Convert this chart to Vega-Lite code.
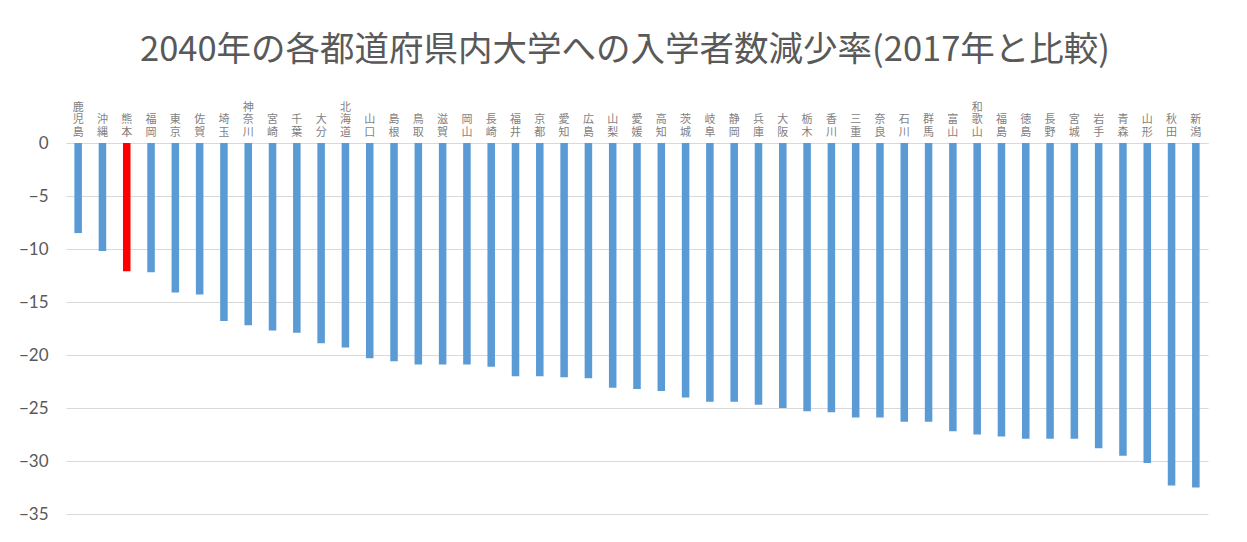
{
  "$schema": "https://vega.github.io/schema/vega-lite/v6.json",
  "width": 1142,
  "height": 371,
  "autosize": {"type": "none"},
  "padding": {"left": 66, "top": 143, "right": 39, "bottom": 28},
  "background": "white",
  "title": {
    "text": "2040年の各都道府県内大学への入学者数減少率(2017年と比較)",
    "font": "Noto Sans CJK JP",
    "fontSize": 34.5,
    "fontWeight": "normal",
    "color": "#595959",
    "anchor": "middle",
    "dx": -12,
    "offset": 33
  },
  "data": {
    "values": [
      {"pref": "鹿児島", "rate": -8.5},
      {"pref": "沖縄", "rate": -10.2},
      {"pref": "熊本", "rate": -12.1},
      {"pref": "福岡", "rate": -12.2},
      {"pref": "東京", "rate": -14.1},
      {"pref": "佐賀", "rate": -14.3},
      {"pref": "埼玉", "rate": -16.8},
      {"pref": "神奈川", "rate": -17.2},
      {"pref": "宮崎", "rate": -17.7},
      {"pref": "千葉", "rate": -17.9},
      {"pref": "大分", "rate": -18.9},
      {"pref": "北海道", "rate": -19.3},
      {"pref": "山口", "rate": -20.3},
      {"pref": "島根", "rate": -20.6},
      {"pref": "鳥取", "rate": -20.9},
      {"pref": "滋賀", "rate": -20.9},
      {"pref": "岡山", "rate": -20.9},
      {"pref": "長崎", "rate": -21.1},
      {"pref": "福井", "rate": -22.0},
      {"pref": "京都", "rate": -22.0},
      {"pref": "愛知", "rate": -22.1},
      {"pref": "広島", "rate": -22.2},
      {"pref": "山梨", "rate": -23.1},
      {"pref": "愛媛", "rate": -23.2},
      {"pref": "高知", "rate": -23.4},
      {"pref": "茨城", "rate": -24.0},
      {"pref": "岐阜", "rate": -24.4},
      {"pref": "静岡", "rate": -24.4},
      {"pref": "兵庫", "rate": -24.7},
      {"pref": "大阪", "rate": -25.0},
      {"pref": "栃木", "rate": -25.3},
      {"pref": "香川", "rate": -25.4},
      {"pref": "三重", "rate": -25.9},
      {"pref": "奈良", "rate": -25.9},
      {"pref": "石川", "rate": -26.3},
      {"pref": "群馬", "rate": -26.3},
      {"pref": "富山", "rate": -27.2},
      {"pref": "和歌山", "rate": -27.5},
      {"pref": "福島", "rate": -27.7},
      {"pref": "徳島", "rate": -27.9},
      {"pref": "長野", "rate": -27.9},
      {"pref": "宮城", "rate": -27.9},
      {"pref": "岩手", "rate": -28.8},
      {"pref": "青森", "rate": -29.5},
      {"pref": "山形", "rate": -30.2},
      {"pref": "秋田", "rate": -32.3},
      {"pref": "新潟", "rate": -32.5}
    ]
  },
  "mark": {"type": "bar", "width": {"band": 0.31}},
  "encoding": {
    "x": {
      "field": "pref",
      "type": "nominal",
      "sort": null,
      "scale": {"paddingInner": 0, "paddingOuter": 0},
      "axis": {
        "orient": "top",
        "title": null,
        "labelAngle": 0,
        "labelOverlap": false,
        "labelExpr": "length(datum.label) == 2 ? ['', substring(datum.label, 0, 1), substring(datum.label, 1, 2)] : split(datum.label, '')",
        "labelFont": "Noto Sans CJK JP",
        "labelFontSize": 11,
        "labelLineHeight": 12.5,
        "labelColor": "#7f7f7f",
        "labelBaseline": "bottom",
        "labelPadding": 31,
        "ticks": false,
        "domain": true,
        "domainColor": "#d9d9d9",
        "grid": false
      }
    },
    "y": {
      "field": "rate",
      "type": "quantitative",
      "scale": {"domain": [-35, 0], "nice": false, "zero": true},
      "axis": {
        "title": null,
        "values": [0, -5, -10, -15, -20, -25, -30, -35],
        "labelFont": "Lato",
        "labelFontSize": 17,
        "labelColor": "#595959",
        "labelPadding": 18,
        "ticks": false,
        "domain": false,
        "grid": true,
        "gridColor": "#d9d9d9",
        "gridWidth": 1
      }
    },
    "color": {
      "condition": {"test": "datum.pref === '熊本'", "value": "#FF0000"},
      "value": "#5B9BD5"
    }
  },
  "config": {"view": {"stroke": null}}
}
